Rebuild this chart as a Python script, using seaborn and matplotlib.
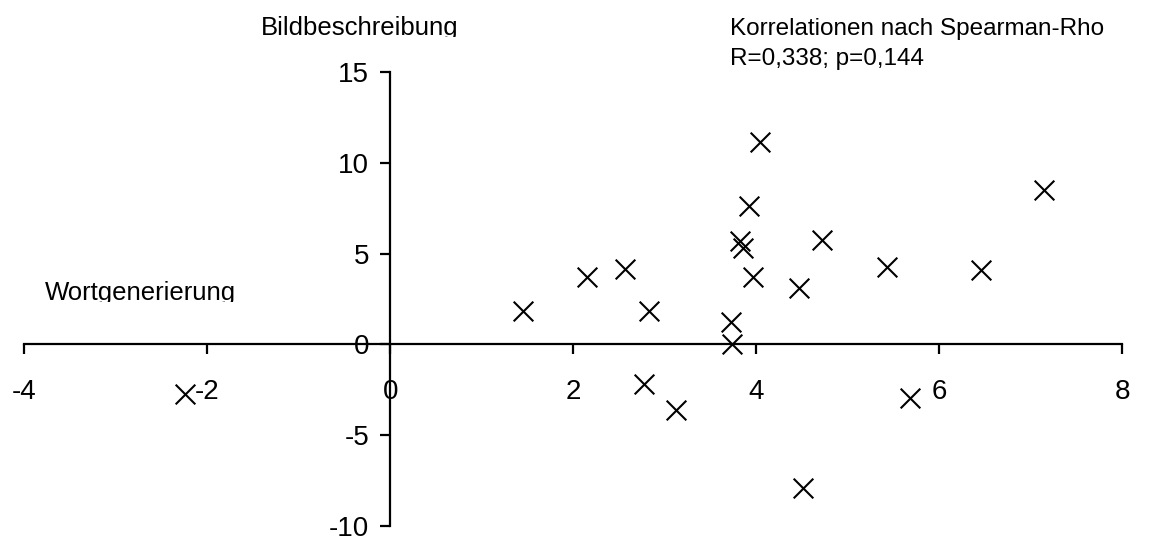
import matplotlib
matplotlib.use("Agg")
import matplotlib.pyplot as plt
from matplotlib.transforms import Bbox
import seaborn as sns
import pandas as pd

# Wortgenerierung (x) vs Bildbeschreibung (y)
wortgenerierung = [-2.24, 1.45, 2.15, 2.57, 2.83, 2.77, 3.12, 3.72, 3.74, 4.04,
                   3.92, 3.82, 3.86, 3.96, 4.47, 4.72, 5.43, 7.14, 6.46, 5.68, 4.51]
bildbeschreibung = [-2.7, 1.82, 3.72, 4.13, 1.82, -2.19, -3.61, 1.22, 0.0, 11.15,
                    7.6, 5.7, 5.32, 3.72, 3.09, 5.77, 4.26, 8.5, 4.1, -2.97, -7.89]

x_ticks = [-4, -2, 0, 2, 4, 6, 8]
y_ticks = [-10, -5, 0, 5, 10, 15]

df = pd.DataFrame({"Wortgenerierung": wortgenerierung,
                   "Bildbeschreibung": bildbeschreibung})

sns.set_style("white")
plt.rcParams["font.family"] = ["Liberation Sans", "DejaVu Sans"]
plt.rcParams["axes.unicode_minus"] = False
plt.rcParams["text.color"] = "black"
plt.rcParams["xtick.color"] = "black"
plt.rcParams["ytick.color"] = "black"

fig = plt.figure(figsize=(11.62, 5.42), dpi=100)
ax = fig.add_axes([0.0207, 0.0290, 0.9452, 0.8387])

sns.scatterplot(data=df, x="Wortgenerierung", y="Bildbeschreibung", ax=ax,
                marker="x", color="black", s=200, linewidth=1.5)

ax.set_xlim(-4, 8)
ax.set_ylim(-10, 15)
ax.set_xticks(x_ticks)
ax.set_yticks(y_ticks)
ax.set_xlabel("")
ax.set_ylabel("")

# axes crossing at origin
ax.spines["left"].set_position(("data", 0))
ax.spines["bottom"].set_position(("data", 0))
ax.spines["top"].set_visible(False)
ax.spines["right"].set_visible(False)
for side in ["left", "bottom"]:
    ax.spines[side].set_linewidth(1.6)
    ax.spines[side].set_color("black")

ax.tick_params(axis="x", direction="out", length=7, width=1.6, pad=18,
               labelsize=20, bottom=True)
ax.tick_params(axis="y", direction="out", length=7, width=1.6, pad=8,
               labelsize=20, left=True)
ax.patch.set_alpha(0)

# text boxes; descenders are cut off like in the original
t1 = fig.text(261 / 1162, 1 - 35 / 542, "Bildbeschreibung", fontsize=18.5, va="baseline")
t1.set_clip_box(Bbox.from_extents(0, 542 - 37, 1162, 542))
t1.set_clip_on(True)
fig.text(730 / 1162, 1 - 35 / 542, "Korrelationen nach Spearman-Rho", fontsize=17.5, va="baseline")
fig.text(730 / 1162, 1 - 65 / 542, "R=0,338; p=0,144", fontsize=17.5, va="baseline")
t2 = fig.text(45 / 1162, 1 - 300 / 542, "Wortgenerierung", fontsize=18.5, va="baseline")
t2.set_clip_box(Bbox.from_extents(0, 542 - 302, 1162, 542))
t2.set_clip_on(True)

fig.savefig("out.png", dpi=100)
